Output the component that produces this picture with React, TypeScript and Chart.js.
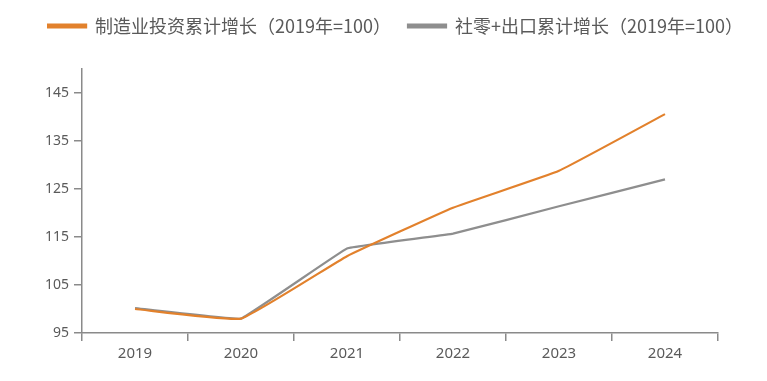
import React, { useEffect, useRef } from "react";
import { Chart, registerables } from "chart.js";

Chart.register(...registerables);

const categories = ["2019", "2020", "2021", "2022", "2023", "2024"];
const manufacturingInvestment = [100, 98, 111, 121.1, 128.8, 140.6];
const retailPlusExports = [100.2, 98, 112.6, 115.7, 121.4, 127];
const seriesNames = ["制造业投资累计增长（2019年=100）", "社零+出口累计增长（2019年=100）"];
const yTicks = [95, 105, 115, 125, 135, 145];

const ORANGE = "#E2812C";
const GRAY = "#8E8E8E";
const AXIS = "#8A8A8A";
const TEXT = "#5A5A5A";

export default function App() {
  const ref = useRef<HTMLCanvasElement | null>(null);
  useEffect(() => {
    if (!ref.current) return;
    const legendHeight = {
      id: "legendHeight",
      beforeInit(chart: any) {
        const orig = chart.legend.fit;
        chart.legend.fit = function () {
          orig.bind(chart.legend)();
          this.height = 69;
        };
      },
    };
    const chart = new Chart(ref.current, {
      type: "line",
      data: {
        labels: categories,
        datasets: [
          {
            label: seriesNames[0],
            data: manufacturingInvestment,
            borderColor: ORANGE,
            backgroundColor: ORANGE,
            borderWidth: 2.2,
            pointRadius: 0,
            tension: 0.1,
            yAxisID: "y",
          },
          {
            label: seriesNames[1],
            data: retailPlusExports,
            borderColor: GRAY,
            backgroundColor: GRAY,
            borderWidth: 2.2,
            pointRadius: 0,
            tension: 0.05,
            yAxisID: "y",
          },
        ],
      },
      options: {
        animation: false,
        responsive: true,
        maintainAspectRatio: false,
        layout: { padding: { left: 24, right: 0, top: 0, bottom: 0 } },
        plugins: {
          legend: {
            position: "top",
            labels: {
              boxWidth: 38,
              boxHeight: 3,
              padding: 17,
              color: TEXT,
              font: { family: "'Noto Sans CJK SC', 'Noto Sans'", size: 18 },
            },
          },
          tooltip: { enabled: false },
        },
        scales: {
          x: {
            offset: true,
            grid: {
              offset: true,
              drawOnChartArea: false,
              drawTicks: true,
              tickLength: 8,
              color: AXIS,
              lineWidth: 1.5,
            },
            border: { color: AXIS, width: 1.5 },
            ticks: {
              color: TEXT,
              padding: 4,
              font: { family: "'Noto Sans'", size: 15 },
            },
            afterFit: (scale: any) => {
              scale.height = 48;
            },
          },
          y: {
            min: 95,
            max: 150,
            grid: {
              drawOnChartArea: false,
              drawTicks: true,
              tickLength: 8,
              color: AXIS,
              lineWidth: 1.5,
            },
            border: { color: AXIS, width: 1.5 },
            afterBuildTicks: (axis: any) => {
              axis.ticks = yTicks.map((v) => ({ value: v }));
            },
            ticks: {
              color: TEXT,
              padding: 5,
              font: { family: "'Noto Sans'", size: 14 },
            },
            afterFit: (scale: any) => {
              scale.width = 58;
            },
          },
          yRight: {
            position: "right",
            min: 95,
            max: 150,
            grid: { display: false, drawTicks: false },
            border: { display: false },
            ticks: { display: false },
            afterFit: (scale: any) => {
              scale.width = 49;
            },
          },
        },
      },
      plugins: [legendHeight],
    });
    return () => chart.destroy();
  }, []);
  return (
    <div style={{ position: "fixed", left: 0, top: 0, width: 767, height: 381, background: "#fff" }}>
      <canvas ref={ref} />
    </div>
  );
}
